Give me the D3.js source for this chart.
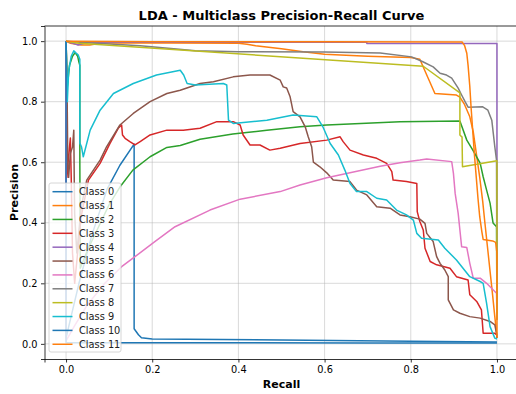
<!DOCTYPE html>
<html>
<head>
<meta charset="utf-8">
<script src="https://cdn.jsdelivr.net/npm/d3@7"></script>
<style>
  body { margin: 0; background: #fff; }
  svg { display: block; font-family: "DejaVu Sans", sans-serif; }
</style>
</head>
<body>
<div id="chart"></div>
<script>
// tick labels
const xTicks = [0.0, 0.2, 0.4, 0.6, 0.8, 1.0];
const yTicks = [0.0, 0.2, 0.4, 0.6, 0.8, 1.0];

const classNames = ['Class 0', 'Class 1', 'Class 2', 'Class 3', 'Class 4', 'Class 5',
  'Class 6', 'Class 7', 'Class 8', 'Class 9', 'Class 10', 'Class 11'];

const colors = ['#1f77b4', '#ff7f0e', '#2ca02c', '#d62728', '#9467bd', '#8c564b',
  '#e377c2', '#7f7f7f', '#bcbd22', '#17becf', '#1f77b4', '#ff7f0e'];

// [recall, precision] pairs
const class0 = [[0, 1], [0, 0.02], [0.01, 0.08], [0.03, 0.2], [0.06, 0.36], [0.095, 0.51],
  [0.125, 0.59], [0.158, 0.66], [0.158, 0.05], [0.163, 0.04], [0.168, 0.03], [0.175, 0.02],
  [0.2, 0.016], [0.5, 0.013], [0.8, 0.009], [1.0, 0.006]];

const class1 = [[0, 1], [0.01, 0.993], [0.035, 0.987], [0.055, 0.987], [0.086, 0.995],
  [0.4, 0.993], [0.42, 0.99], [0.44, 0.985], [0.47, 0.98], [0.5, 0.975], [0.55, 0.965],
  [0.6, 0.957], [0.7, 0.95], [0.8, 0.946], [0.821, 0.94], [0.856, 0.827], [0.906, 0.822],
  [0.914, 0.815], [0.925, 0.79], [0.937, 0.75], [0.945, 0.70], [0.952, 0.63], [0.96, 0.55],
  [0.967, 0.47], [0.972, 0.40], [0.978, 0.32], [0.984, 0.24], [0.99, 0.16], [0.995, 0.09],
  [0.998, 0.05], [1.0, 0.02]];

const class2 = [[0, 1], [0.003, 0.85], [0.008, 0.92], [0.015, 0.95], [0.021, 0.962],
  [0.027, 0.95], [0.03, 0.93], [0.032, 0.92], [0.032, 0.6], [0.033, 0.25], [0.05, 0.31],
  [0.08, 0.40], [0.1, 0.46], [0.125, 0.518], [0.155, 0.574], [0.195, 0.618], [0.234, 0.649],
  [0.265, 0.655], [0.311, 0.676], [0.387, 0.693], [0.419, 0.698], [0.466, 0.706],
  [0.543, 0.717], [0.605, 0.723], [0.775, 0.734], [0.914, 0.736], [0.93, 0.673],
  [0.944, 0.64], [0.961, 0.597], [0.968, 0.552], [0.976, 0.508], [0.984, 0.465],
  [0.991, 0.399], [0.999, 0.387], [1.0, 0.08]];

const class3 = [[0, 1], [0.002, 0.55], [0.006, 0.62], [0.01, 0.68], [0.012, 0.55],
  [0.015, 0.3], [0.02, 0.2], [0.035, 0.42], [0.052, 0.541], [0.079, 0.596], [0.102, 0.662],
  [0.121, 0.712], [0.129, 0.723], [0.131, 0.69], [0.137, 0.679], [0.148, 0.668],
  [0.16, 0.657], [0.172, 0.668], [0.195, 0.69], [0.234, 0.706], [0.272, 0.706],
  [0.311, 0.712], [0.35, 0.734], [0.388, 0.734], [0.404, 0.723], [0.411, 0.69],
  [0.427, 0.657], [0.45, 0.657], [0.473, 0.64], [0.497, 0.646], [0.543, 0.662],
  [0.605, 0.673], [0.636, 0.684], [0.643, 0.668], [0.659, 0.64], [0.69, 0.624],
  [0.721, 0.613], [0.744, 0.596], [0.756, 0.569], [0.759, 0.541], [0.79, 0.536],
  [0.814, 0.53], [0.815, 0.437], [0.821, 0.404], [0.829, 0.376], [0.833, 0.316],
  [0.845, 0.272], [0.86, 0.261], [0.891, 0.25], [0.906, 0.222], [0.933, 0.211],
  [0.937, 0.162], [0.953, 0.14], [0.964, 0.112], [0.968, 0.035], [0.995, 0.035],
  [1.0, 0.03]];

const class4 = [[0, 1], [0.028, 0.987], [0.05, 0.996], [0.698, 0.996], [0.698, 0.992],
  [1.0, 0.992], [1.0, 0.08]];

const class5 = [[0, 1], [0.002, 0.9], [0.004, 0.6], [0.006, 0.55], [0.01, 0.63],
  [0.015, 0.65], [0.018, 0.706], [0.019, 0.55], [0.02, 0.43], [0.025, 0.3], [0.035, 0.45],
  [0.048, 0.541], [0.079, 0.607], [0.094, 0.651], [0.125, 0.723], [0.156, 0.761],
  [0.195, 0.8], [0.234, 0.827], [0.265, 0.838], [0.311, 0.86], [0.342, 0.866],
  [0.388, 0.882], [0.427, 0.888], [0.473, 0.888], [0.497, 0.871], [0.504, 0.849],
  [0.512, 0.845], [0.52, 0.816], [0.527, 0.767], [0.543, 0.75], [0.555, 0.717],
  [0.562, 0.684], [0.570, 0.651], [0.574, 0.6], [0.589, 0.585], [0.605, 0.565],
  [0.62, 0.541], [0.659, 0.536], [0.674, 0.508], [0.698, 0.492], [0.721, 0.453],
  [0.752, 0.448], [0.775, 0.426], [0.798, 0.42], [0.821, 0.412], [0.833, 0.398],
  [0.837, 0.365], [0.852, 0.338], [0.86, 0.288], [0.868, 0.266], [0.879, 0.244],
  [0.887, 0.222], [0.887, 0.145], [0.899, 0.112], [0.914, 0.101], [0.937, 0.09],
  [0.961, 0.085], [0.984, 0.074], [0.995, 0.063], [0.999, 0.035], [1.0, 0.02]];

const class6 = [[0, 1], [0, 0.01], [0.02, 0.06], [0.05, 0.13], [0.09, 0.2], [0.129, 0.255],
  [0.16, 0.288], [0.206, 0.338], [0.253, 0.387], [0.334, 0.442], [0.404, 0.478],
  [0.497, 0.503], [0.543, 0.525], [0.605, 0.549], [0.729, 0.587], [0.775, 0.598],
  [0.821, 0.607], [0.837, 0.611], [0.895, 0.602], [0.899, 0.563], [0.903, 0.497],
  [0.91, 0.431], [0.914, 0.376], [0.918, 0.321], [0.93, 0.318], [0.937, 0.266],
  [0.945, 0.217], [0.961, 0.217], [0.976, 0.2], [0.995, 0.173], [0.999, 0.167],
  [1.0, 0.08]];

const class7 = [[0, 1], [0.05, 0.995], [0.172, 0.985], [0.25, 0.975], [0.3, 0.968],
  [0.4, 0.965], [0.6, 0.964], [0.729, 0.961], [0.802, 0.948], [0.828, 0.932],
  [0.852, 0.915], [0.868, 0.894], [0.883, 0.888], [0.895, 0.878], [0.91, 0.845],
  [0.918, 0.822], [0.926, 0.80], [0.933, 0.782], [0.967, 0.783], [0.979, 0.772],
  [0.988, 0.739], [0.995, 0.651], [0.999, 0.607], [1.0, 0.1]];

const class8 = [[0, 1], [0.03, 0.993], [0.829, 0.917], [0.914, 0.829], [0.914, 0.69],
  [0.919, 0.683], [0.92, 0.585], [1.0, 0.605], [1.0, 0.08]];

const class9 = [[0, 1], [0.003, 0.80], [0.006, 0.9], [0.012, 0.95], [0.018, 0.968],
  [0.022, 0.962], [0.028, 0.955], [0.032, 0.94], [0.032, 0.663], [0.036, 0.65],
  [0.04, 0.618], [0.056, 0.706], [0.079, 0.772], [0.11, 0.827], [0.156, 0.86],
  [0.21, 0.888], [0.265, 0.904], [0.273, 0.888], [0.281, 0.86], [0.3, 0.855],
  [0.365, 0.86], [0.373, 0.855], [0.377, 0.739], [0.388, 0.728], [0.466, 0.739],
  [0.527, 0.756], [0.582, 0.75], [0.596, 0.717], [0.613, 0.662], [0.632, 0.624],
  [0.647, 0.574], [0.659, 0.53], [0.674, 0.503], [0.698, 0.503], [0.721, 0.481],
  [0.744, 0.475], [0.767, 0.442], [0.79, 0.426], [0.806, 0.409], [0.814, 0.365],
  [0.825, 0.349], [0.864, 0.343], [0.879, 0.316], [0.906, 0.277], [0.937, 0.222],
  [0.961, 0.206], [0.968, 0.2], [0.976, 0.134], [0.984, 0.057], [0.995, 0.019],
  [1.0, 0.016]];

const class10 = [[0, 1], [0, 0.004], [0.3, 0.004], [0.7, 0.003], [1.0, 0.003]];

const class11 = [[0, 1], [0.2, 0.998], [0.6, 0.998], [0.919, 0.997], [0.925, 0.985],
  [0.93, 0.96], [0.933, 0.92], [0.937, 0.85], [0.94, 0.78], [0.944, 0.70], [0.948, 0.62],
  [0.952, 0.55], [0.956, 0.48], [0.96, 0.42], [0.965, 0.37], [0.968, 0.345],
  [0.99, 0.34], [0.997, 0.335], [1.0, 0.30], [1.0, 0.02]];

const curves = [class0, class1, class2, class3, class4, class5,
  class6, class7, class8, class9, class10, class11];

const width = 516;
const height = 394;
const margin = { top: 26, right: -2.5, bottom: 35, left: 44.5 };

const svg = d3.select('#chart')
  .append('svg')
  .attr('width', width)
  .attr('height', height);

const x = d3.scaleLinear().domain([-0.05, 1.05]).range([margin.left, width - margin.right]);
const y = d3.scaleLinear().domain([-0.05, 1.05]).range([height - margin.bottom, margin.top]);

svg.append('defs').append('clipPath')
  .attr('id', 'plot-clip')
  .append('rect')
  .attr('x', margin.left)
  .attr('y', margin.top)
  .attr('width', width - margin.right - margin.left)
  .attr('height', height - margin.bottom - margin.top);

// grid
svg.append('g')
  .selectAll('line.vgrid')
  .data(xTicks)
  .enter().append('line')
  .attr('x1', d => x(d)).attr('x2', d => x(d))
  .attr('y1', margin.top).attr('y2', height - margin.bottom)
  .attr('stroke', '#b0b0b0').attr('stroke-opacity', 0.6).attr('stroke-width', 0.8);

svg.append('g')
  .selectAll('line.hgrid')
  .data(yTicks)
  .enter().append('line')
  .attr('y1', d => y(d)).attr('y2', d => y(d))
  .attr('x1', margin.left).attr('x2', width - margin.right)
  .attr('stroke', '#b0b0b0').attr('stroke-opacity', 0.6).attr('stroke-width', 0.8);

// curves
const line = d3.line()
  .x(d => x(d[0]))
  .y(d => y(d[1]));

svg.append('g')
  .attr('clip-path', 'url(#plot-clip)')
  .selectAll('path')
  .data(curves)
  .enter().append('path')
  .attr('d', d => line(d))
  .attr('fill', 'none')
  .attr('stroke', (d, i) => colors[i])
  .attr('stroke-width', 1.5)
  .attr('stroke-linejoin', 'round');

// axes
const xAxis = svg.append('g')
  .attr('transform', 'translate(0,' + (height - margin.bottom) + ')')
  .call(d3.axisBottom(x).tickValues(xTicks).tickFormat(d3.format('.1f')).tickSizeOuter(0).tickSize(3.5).tickPadding(3.5));

const yAxis = svg.append('g')
  .attr('transform', 'translate(' + margin.left + ',0)')
  .call(d3.axisLeft(y).tickValues(yTicks).tickFormat(d3.format('.1f')).tickSizeOuter(0).tickSize(3.5).tickPadding(3.5));

[xAxis, yAxis].forEach(a => {
  a.select('.domain').attr('stroke', '#000').attr('stroke-width', 0.8);
  a.selectAll('.tick line').attr('stroke', '#000').attr('stroke-width', 0.8);
  a.selectAll('.tick text')
    .attr('font-family', 'DejaVu Sans')
    .attr('font-size', 9.8)
    .attr('fill', '#000');
});

// top spine
svg.append('line')
  .attr('x1', margin.left).attr('x2', width - margin.right)
  .attr('y1', margin.top).attr('y2', margin.top)
  .attr('stroke', '#000').attr('stroke-width', 0.8);

// title and axis labels
svg.append('text')
  .attr('x', (margin.left + width - margin.right) / 2)
  .attr('y', 20)
  .style('text-anchor', 'middle')
  .attr('font-size', 13)
  .attr('font-weight', 'bold')
  .text('LDA - Multiclass Precision-Recall Curve');

svg.append('text')
  .attr('x', (margin.left + width - margin.right) / 2)
  .attr('y', 388)
  .style('text-anchor', 'middle')
  .attr('font-size', 11)
  .attr('font-weight', 'bold')
  .text('Recall');

svg.append('text')
  .attr('transform', 'rotate(-90)')
  .attr('x', -(margin.top + height - margin.bottom) / 2)
  .attr('y', 18)
  .style('text-anchor', 'middle')
  .attr('font-size', 11)
  .attr('font-weight', 'bold')
  .text('Precision');

// legend
const legend = svg.append('g').attr('transform', 'translate(49,183)');
legend.append('rect')
  .attr('width', 72).attr('height', 169)
  .attr('rx', 2)
  .attr('fill', '#fff').attr('fill-opacity', 0.8)
  .attr('stroke', '#cccccc').attr('stroke-width', 0.8);

const items = legend.selectAll('g.item')
  .data(classNames)
  .enter().append('g')
  .attr('transform', (d, i) => 'translate(0,' + (8.7 + i * 13.87) + ')');

items.append('line')
  .attr('x1', 3.5).attr('x2', 23.5)
  .attr('stroke', (d, i) => colors[i])
  .attr('stroke-width', 1.5);

items.append('text')
  .attr('x', 30)
  .attr('dy', '0.35em')
  .attr('font-size', 9.8)
  .attr('fill', '#222')
  .text(d => d);
</script>
</body>
</html>
